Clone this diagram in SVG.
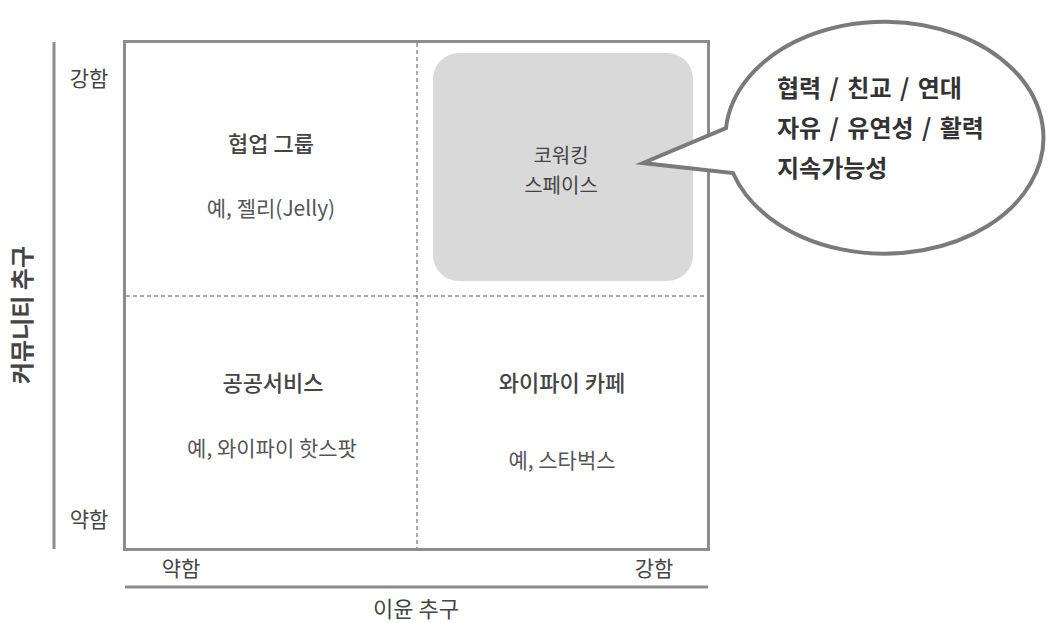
<svg xmlns="http://www.w3.org/2000/svg" width="1047" height="623" viewBox="0 0 1047 623">
<style>
  text { font-family: "Noto Sans CJK KR", "Noto Sans", sans-serif; }
  .title { font-size: 22px; fill: #444; text-anchor: middle; font-weight: 500; }
  .ex { font-size: 21px; fill: #555; text-anchor: middle; }
  .axis { font-size: 21px; fill: #444; text-anchor: middle; }
  .axtitle { font-size: 24px; fill: #444; font-weight: bold; text-anchor: middle; }
  .bub { font-size: 24px; fill: #333; font-weight: bold; word-spacing: 3px; }
  .frame { fill: none; stroke: #8c8c8c; stroke-width: 3; }
  .dash { stroke: #555; stroke-width: 1; stroke-dasharray: 4 3; fill: none; }
</style>
<rect width="1047" height="623" fill="#fff"/>
<g id="axes">
  <line x1="54" y1="42" x2="54" y2="549" stroke="#8c8c8c" stroke-width="3"/>
  <line x1="125" y1="587" x2="708" y2="587" stroke="#8c8c8c" stroke-width="3"/>
  <text class="axtitle" transform="translate(31,315) rotate(-90)">커뮤니티 추구</text>
  <text class="axis" x="89" y="86">강함</text>
  <text class="axis" x="89" y="527">약함</text>
  <text class="axis" x="181" y="576">약함</text>
  <text class="axis" x="654" y="576">강함</text>
  <text class="axis" x="416" y="617" style="font-size:22px">이윤 추구</text>
</g>
<g id="frame">
  <rect class="frame" x="124.5" y="41.5" width="584" height="508"/>
  <line class="dash" x1="417" y1="43" x2="417" y2="548"/>
  <line class="dash" x1="126" y1="296" x2="707" y2="296"/>
</g>
<g id="q1">
  <text class="title" x="271" y="152">협업 그룹</text>
  <text class="ex" x="271" y="216">예, 젤리(Jelly)</text>
</g>
<g id="q2">
  <rect x="433" y="53" width="260" height="228" rx="26" fill="#d9d9d9"/>
  <text class="title" x="561" y="163" style="font-weight:400;font-size:20px">코워킹</text>
  <text class="title" x="561" y="193" style="font-weight:400;font-size:20px">스페이스</text>
</g>
<g id="q3">
  <text class="title" x="273" y="391">공공서비스</text>
  <text class="ex" x="272" y="456">예, 와이파이 핫스팟</text>
</g>
<g id="q4">
  <text class="title" x="562" y="391">와이파이 카페</text>
  <text class="ex" x="562" y="468">예, 스타벅스</text>
</g>
<g id="bubble">
  <path d="M 726,128 A 159,116 0 1 1 733,173 L 643,163 Z" fill="#fff" stroke="#7a7a7a" stroke-width="4" stroke-linejoin="miter"/>
  <text class="bub" x="777" y="97">협력 / 친교 / 연대</text>
  <text class="bub" x="777" y="137">자유 / 유연성 / 활력</text>
  <text class="bub" x="777" y="177">지속가능성</text>
</g>
</svg>
